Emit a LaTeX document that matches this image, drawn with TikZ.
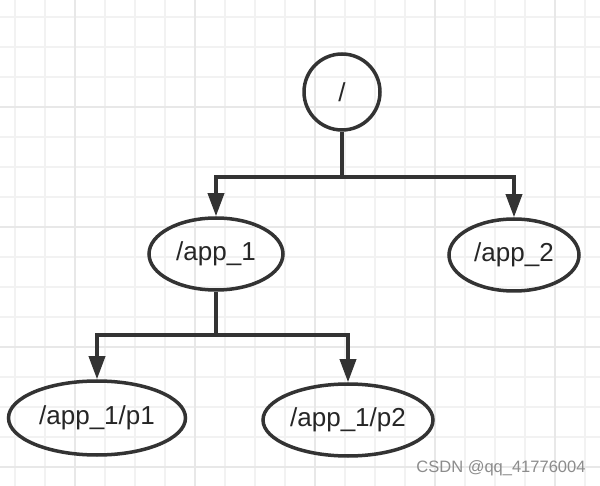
\documentclass[tikz,border=0pt]{standalone}
\usepackage{fontspec}
\setmainfont{Liberation Sans}
\usetikzlibrary{arrows.meta,shapes.geometric}
\definecolor{inkgray}{HTML}{333333}
\definecolor{gridminor}{HTML}{F2F2F2}
\definecolor{gridmajor}{HTML}{E8E8E8}

\begin{document}
\begin{tikzpicture}[x=1pt,y=-1pt,
    dirnode/.style={draw=inkgray, line width=3.5pt, ellipse, inner sep=0pt,
        text=black!85, font=\fontsize{26}{30}\selectfont},
    rootnode/.style={dirnode, circle, minimum size=76pt},
    link/.style={draw=inkgray, line width=3.5pt,
        -{Triangle[length=23pt,width=16pt]}},
    minorline/.style={draw=gridminor, line width=1.6pt},
    majorline/.style={draw=gridmajor, line width=2.2pt}]
    \useasboundingbox (0,0) rectangle (600,486);
    \fill[white] (0,0) rectangle (600,486);
    \foreach \x in {15,45,...,585} \draw[minorline] (\x,0) -- (\x,486);
    \foreach \y in {17,47,...,467} \draw[minorline] (0,\y) -- (600,\y);
    \foreach \x in {75,195,...,555} \draw[majorline] (\x,0) -- (\x,486);
    \foreach \y in {107,227,347,467} \draw[majorline] (0,\y) -- (600,\y);

    \node[rootnode] (root) at (342,92) {/};
    \node[dirnode, minimum width=134pt, minimum height=72pt] (app1) at (216,254) {/app\_1};
    \node[dirnode, minimum width=130pt, minimum height=72pt] (app2) at (514,255) {/app\_2};
    \node[dirnode, minimum width=177pt, minimum height=74pt] (p1) at (97,418) {/app\_1/p1};
    \node[dirnode, minimum width=170pt, minimum height=72pt] (p2) at (348,420) {/app\_1/p2};

    \coordinate (j1) at (342,177);
    \coordinate (j2) at (216,335);

    \draw[link] (root.south) -- (j1) -| (app1.north);
    \draw[link] (j1) -| (app2.north);
    \draw[link] (app1.south) -- (j2) -| (p1.north);
    \draw[link] (j2) -| (p2.north);

    \node[text=black!45, font=\fontsize{16.5}{20}\selectfont] (mark) at (501,468) {CSDN @qq\_41776004};
\end{tikzpicture}
\end{document}
